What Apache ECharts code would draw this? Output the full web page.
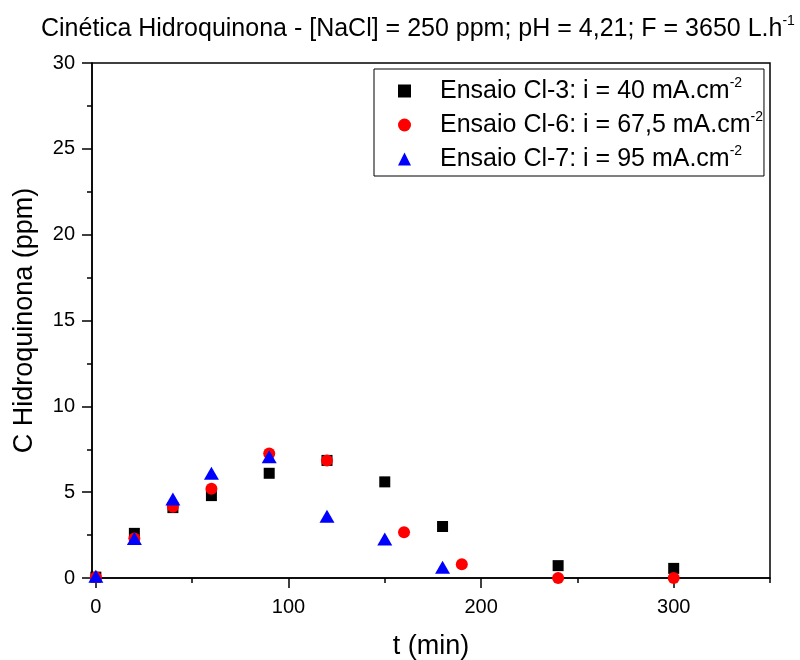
<!DOCTYPE html>
<html>
<head>
<meta charset="utf-8">
<script src="https://cdn.jsdelivr.net/npm/echarts@6/dist/echarts.min.js"></script>
<style>
  html, body { margin: 0; padding: 0; background: #fff; }
  #chart { width: 800px; height: 660px; }
</style>
</head>
<body>
<div id="chart"></div>
<script>
// Hydroquinone concentration vs time for three current densities
const tempo = [0, 20, 40, 60, 90, 120, 150, 180, 240, 300];
const ensaioCl3 = [0.05, 2.6, 4.1, 4.8, 6.1, 6.85, 5.6, 3.0, 0.72, 0.56];

const tempoCl6 = [0, 20, 40, 60, 90, 120, 160, 190, 240, 300];
const ensaioCl6 = [0.05, 2.3, 4.15, 5.2, 7.25, 6.85, 2.66, 0.8, 0.0, 0.0];

const tempoCl7 = [0, 20, 40, 60, 90, 120, 150, 180];
const ensaioCl7 = [0.1, 2.3, 4.6, 6.1, 7.07, 3.6, 2.27, 0.62];

const seriesNames = ['Ensaio Cl-3', 'Ensaio Cl-6', 'Ensaio Cl-7'];
const correntes = ['40', '67,5', '95'];

const xMajor = [0, 100, 200, 300];
const xMinor = [50, 150, 250, 350];

const pairs = (xs, ys) => xs.map((x, i) => [x, ys[i]]);

const FONT = '"Liberation Sans", Arial, Helvetica, sans-serif';

const chart = echarts.init(document.getElementById('chart'), null, { renderer: 'canvas' });

const legendText = {};
seriesNames.forEach((n, i) => {
  legendText[n] = '{sp| }' + n + ': i = ' + correntes[i] + ' mA.cm{sup|-2}';
});

chart.setOption({
  animation: false,
  backgroundColor: '#fff',
  title: {
    text: 'Cinética Hidroquinona - [NaCl] = 250 ppm; pH = 4,21; F = 3650 L.h{sup|-1}',
    left: 41,
    top: 14,
    padding: 0,
    textStyle: {
      fontFamily: FONT,
      fontSize: 25,
      lineHeight: 30,
      fontWeight: 'normal',
      color: '#000',
      rich: {
        sup: { fontSize: 14, lineHeight: 14, verticalAlign: 'top', fontFamily: FONT, color: '#000' }
      }
    }
  },
  grid: {
    left: 92,
    right: 30,
    top: 63,
    bottom: 82,
    outerBoundsMode: 'none',
    containLabel: false,
    show: true,
    borderColor: '#000',
    borderWidth: 1.5,
    backgroundColor: 'transparent'
  },
  legend: {
    orient: 'vertical',
    left: 374,
    top: 69,
    padding: [7, 1, 2, 24],
    itemGap: 4,
    itemWidth: 13,
    itemHeight: 13,
    borderColor: '#000',
    borderWidth: 1,
    backgroundColor: '#fff',
    data: seriesNames,
    formatter: name => legendText[name],
    textStyle: {
      fontFamily: FONT,
      fontSize: 25,
      lineHeight: 30,
      color: '#000',
      rich: {
        sp: { width: 24, fontSize: 10, lineHeight: 30 },
        sup: { fontSize: 14, lineHeight: 14, verticalAlign: 'top', fontFamily: FONT, color: '#000' }
      }
    }
  },
  xAxis: [
    {
      type: 'value',
      min: -2,
      max: 350,
      name: 't (min)',
      nameLocation: 'middle',
      nameGap: 55,
      nameTextStyle: { fontFamily: FONT, fontSize: 27, color: '#000' },
      axisLine: { show: true, onZero: false, lineStyle: { color: '#000', width: 1.5 } },
      axisTick: { show: true, inside: false, length: 10, customValues: xMajor, lineStyle: { color: '#000', width: 1.5 } },
      axisLabel: { show: true, customValues: xMajor, margin: 19, fontFamily: FONT, fontSize: 20, color: '#000' },
      splitLine: { show: false }
    },
    {
      type: 'value',
      min: -2,
      max: 350,
      position: 'bottom',
      axisLine: { show: false },
      axisTick: { show: true, inside: false, length: 5, customValues: xMinor, lineStyle: { color: '#000', width: 1.5 } },
      axisLabel: { show: false },
      splitLine: { show: false }
    }
  ],
  yAxis: {
    type: 'value',
    min: 0,
    max: 30,
    interval: 5,
    name: 'C Hidroquinona (ppm)',
    nameLocation: 'middle',
    nameGap: 54,
    nameTextStyle: { fontFamily: FONT, fontSize: 27, color: '#000' },
    axisLine: { show: true, onZero: false, lineStyle: { color: '#000', width: 1.5 } },
    axisTick: { show: true, inside: false, length: 10, lineStyle: { color: '#000', width: 1.5 } },
    minorTick: { show: true, splitNumber: 2, length: 5, lineStyle: { color: '#000', width: 1.5 } },
    axisLabel: { margin: 17, fontFamily: FONT, fontSize: 20, color: '#000' },
    splitLine: { show: false }
  },
  series: [
    {
      name: seriesNames[0],
      type: 'scatter',
      symbol: 'rect',
      symbolSize: 11,
      itemStyle: { color: '#000', opacity: 1 },
      data: pairs(tempo, ensaioCl3),
      z: 2
    },
    {
      name: seriesNames[1],
      type: 'scatter',
      symbol: 'circle',
      symbolSize: 12,
      itemStyle: { color: '#ff0000', opacity: 1 },
      data: pairs(tempoCl6, ensaioCl6),
      z: 3
    },
    {
      name: seriesNames[2],
      type: 'scatter',
      symbol: 'triangle',
      symbolSize: [15, 13],
      itemStyle: { color: '#0000ff', opacity: 1 },
      data: pairs(tempoCl7, ensaioCl7),
      z: 4
    }
  ]
});
</script>
</body>
</html>
